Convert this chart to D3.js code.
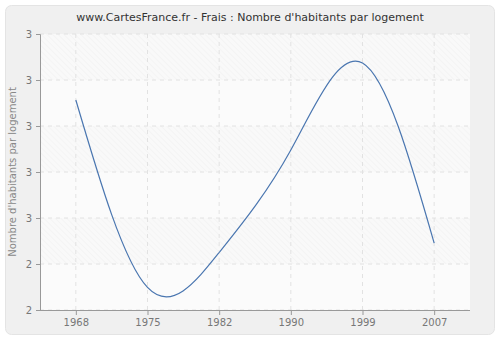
<!DOCTYPE html>
<html>
<head>
<meta charset="utf-8">
<script src="https://cdn.jsdelivr.net/npm/d3@7"></script>
<style>
  body { margin: 0; background: #fff; }
  svg { display: block; font-family: "DejaVu Sans", sans-serif; }
</style>
</head>
<body>
<div id="chart"></div>
<script>
// data
var years = ['1968', '1975', '1982', '1990', '1999', '2007'];
var values = [3.013, 2.198, 2.35, 2.796, 3.174, 2.391];
var yTicks = [2.1, 2.3, 2.5, 2.7, 2.9, 3.1, 3.3];
var yTickLabels = ['2', '2', '3', '3', '3', '3', '3'];

var width = 500, height = 340;
var margin = { top: 34, right: 30, bottom: 30, left: 40 };
var w = width - margin.left - margin.right,
    h = height - margin.top - margin.bottom;

var svg = d3.select('#chart').append('svg')
    .attr('width', width).attr('height', height);

var defs = svg.append('defs');
var pat = defs.append('pattern')
    .attr('id', 'hatch')
    .attr('patternUnits', 'userSpaceOnUse')
    .attr('width', 4).attr('height', 4)
    .attr('patternTransform', 'rotate(-45)');
pat.append('rect').attr('width', 4).attr('height', 4).attr('fill', '#f9f9f9');
pat.append('line').attr('x1', 0).attr('y1', 0).attr('x2', 0).attr('y2', 4)
    .attr('stroke', '#efefef').attr('stroke-width', 1);

// outer frame
svg.append('rect')
    .attr('x', 5.5).attr('y', 5.5)
    .attr('width', width - 11).attr('height', height - 11)
    .attr('rx', 6)
    .attr('fill', '#f0f0f0')
    .attr('stroke', '#e4e4e4');

svg.append('text')
    .attr('x', width / 2).attr('y', 21)
    .attr('text-anchor', 'middle')
    .attr('font-size', 11)
    .attr('fill', '#333')
    .text("www.CartesFrance.fr - Frais : Nombre d'habitants par logement");

var g = svg.append('g').attr('transform', 'translate(' + margin.left + ',' + margin.top + ')');

var x = d3.scalePoint().domain(years).range([0, w]).padding(0.5);
var y = d3.scaleLinear().domain([yTicks[0], yTicks[yTicks.length - 1]]).range([h, 0]);

// plot background with alternating bands
g.append('rect').attr('width', w).attr('height', h).attr('fill', '#fbfbfb');
for (var i = 0; i < yTicks.length - 1; i++) {
    if ((yTicks.length - 2 - i) % 2 === 0) {
        g.append('rect')
            .attr('x', 0).attr('width', w)
            .attr('y', y(yTicks[i + 1]))
            .attr('height', y(yTicks[i]) - y(yTicks[i + 1]))
            .attr('fill', 'url(#hatch)');
    }
}

// grid
g.selectAll('.hgrid').data(yTicks).enter().append('line')
    .attr('x1', 0).attr('x2', w)
    .attr('y1', function(d) { return y(d); })
    .attr('y2', function(d) { return y(d); })
    .attr('stroke', '#e2e2e2').attr('stroke-dasharray', '4,4');
g.selectAll('.vgrid').data(years).enter().append('line')
    .attr('x1', function(d) { return x(d); })
    .attr('x2', function(d) { return x(d); })
    .attr('y1', 0).attr('y2', h)
    .attr('stroke', '#e2e2e2').attr('stroke-dasharray', '4,4');

// axes
var xAxis = g.append('g')
    .attr('transform', 'translate(0,' + h + ')')
    .call(d3.axisBottom(x).tickSize(5).tickPadding(4));
var yAxis = g.append('g')
    .call(d3.axisLeft(y).tickValues(yTicks).tickSize(4).tickPadding(4)
        .tickFormat(function(d, i) { return yTickLabels[i]; }));
[xAxis, yAxis].forEach(function(a) {
    a.select('.domain').attr('stroke', '#999');
    a.selectAll('.tick line').attr('stroke', '#999');
    a.selectAll('.tick text').attr('fill', '#777').attr('font-size', 10)
        .attr('font-family', '"DejaVu Sans", sans-serif');
});
xAxis.select('.domain').attr('d', 'M0,0.5H' + w);

svg.append('text')
    .attr('transform', 'translate(16,' + (margin.top + h / 2) + ') rotate(-90)')
    .attr('text-anchor', 'middle')
    .attr('font-size', 10)
    .attr('fill', '#888')
    .text("Nombre d'habitants par logement");

// line
var line = d3.line()
    .curve(d3.curveNatural)
    .x(function(d, i) { return x(years[i]); })
    .y(function(d) { return y(d); });

g.append('path')
    .datum(values)
    .attr('fill', 'none')
    .attr('stroke', '#4a76b0')
    .attr('stroke-width', 1.2)
    .attr('d', line);
</script>
</body>
</html>
